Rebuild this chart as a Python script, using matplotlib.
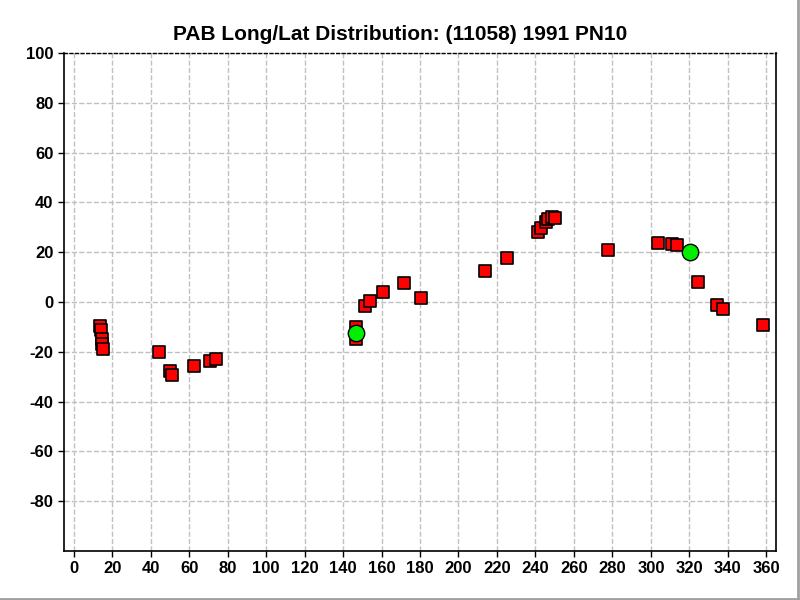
import matplotlib
matplotlib.use("Agg")
import matplotlib.pyplot as plt

# observations (red squares)
obs_lon = [13.7, 14.2, 14.7, 14.9, 15.2, 44.3, 50.0, 50.9, 62.5, 70.8, 73.9,
           146.6, 146.9, 151.3, 153.9, 160.7, 171.6, 180.4,
           213.7, 225.1, 241.2, 242.8, 245.4, 246.6, 248.5, 250.0, 277.6,
           303.5, 310.8, 313.4, 324.3, 334.2, 337.3, 358.1]
obs_lat = [-9.6, -11.4, -15.0, -17.0, -19.0, -20.2, -27.6, -29.4, -25.8, -23.8, -23.0,
           -10.0, -15.0, -1.6, 0.4, 3.9, 7.5, 1.5,
           12.3, 17.5, 28.0, 29.6, 32.0, 33.2, 34.0, 33.6, 20.8,
           23.6, 23.3, 22.8, 7.9, -1.3, -2.9, -9.4]

# highlighted positions (green circles)
hl_lon = [146.5, 320.3]
hl_lat = [-12.3, 20.2]

xticks = list(range(0, 361, 20))
yticks = list(range(-80, 101, 20))


def main():
    plt.rcParams["font.family"] = ["Liberation Sans", "DejaVu Sans"]

    fig = plt.figure(figsize=(8, 6), dpi=100)
    ax = fig.add_axes([0.08, 0.0817, 0.89, 0.83])

    ax.scatter(obs_lon, obs_lat, marker="s", s=70, c="#ff0000", edgecolors="black",
               linewidths=1.2, zorder=3)
    ax.scatter(hl_lon, hl_lat, marker="o", s=140, c="#00ee00", edgecolors="black",
               linewidths=1.0, zorder=4)

    ax.set_xlim(-5, 365)
    ax.set_ylim(-100, 100)
    ax.set_xticks(xticks)
    ax.set_yticks(yticks)
    ax.set_xticklabels([str(v) for v in xticks], fontweight="bold", fontsize=12)
    ax.set_yticklabels([str(v) for v in yticks], fontweight="bold", fontsize=12)
    ax.tick_params(direction="out", length=4, width=1)

    ax.grid(True, color="#c0c0c0", linestyle="--", linewidth=1)
    ax.set_axisbelow(True)

    for s in ["left", "bottom", "right"]:
        ax.spines[s].set_linewidth(1.2)
    ax.spines["top"].set_linestyle((0, (2, 2)))
    ax.spines["top"].set_linewidth(1)

    fig.text(0.5, 0.942, "PAB Long/Lat Distribution: (11058) 1991 PN10",
             ha="center", va="center", fontweight="bold", fontsize=15)

    # window frame
    fig.add_artist(plt.Line2D([0.9975, 0.9975], [0, 1], color="#a0a0a0", lw=2))
    fig.add_artist(plt.Line2D([0, 1], [0.0025, 0.0025], color="#a0a0a0", lw=2))

    fig.savefig("out.png", dpi=100)
    plt.close()


if __name__ == "__main__":
    main()
